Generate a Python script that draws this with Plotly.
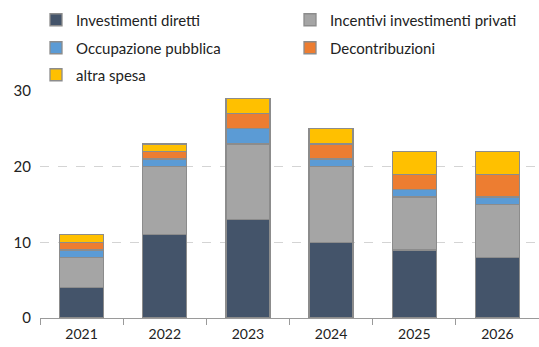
import plotly.graph_objects as go

years = ["2021", "2022", "2023", "2024", "2025", "2026"]
investimenti_diretti = [4, 11, 13, 10, 9, 8]
incentivi_privati = [4, 9, 10, 10, 7, 7]
occupazione_pubblica = [1, 1, 2, 1, 1, 1]
decontribuzioni = [1, 1, 2, 2, 2, 3]
altra_spesa = [1, 1, 2, 2, 3, 3]

# name, values, fill colour, legend id, legend anchor (px from left, px from top)
series = [
    ("Investimenti diretti", investimenti_diretti, "#44546A", "legend", (36, 20)),
    ("Incentivi investimenti privati", incentivi_privati, "#A5A5A5", "legend2", (290, 20)),
    ("Occupazione pubblica", occupazione_pubblica, "#5B9BD5", "legend3", (36, 48)),
    ("Decontribuzioni", decontribuzioni, "#ED7D31", "legend4", (290, 48)),
    ("altra spesa", altra_spesa, "#FFC000", "legend5", (36, 75)),
]

FONT = "Lato, 'Noto Sans', sans-serif"
W, H = 539, 347

fig = go.Figure()
legends = {}
for name, vals, color, leg, (lx, ly) in series:
    fig.add_trace(go.Bar(
        x=years, y=vals, name=name, legend=leg,
        marker=dict(color=color, line=dict(color="#8C8C8C", width=1.3)),
        width=0.53,
    ))
    legends[leg] = dict(
        orientation="h", xref="container", yref="container",
        x=lx / W, y=1 - ly / H, xanchor="left", yanchor="middle",
        font=dict(family=FONT, size=15, color="#222222"),
        bgcolor="rgba(0,0,0,0)", itemwidth=30,
    )

fig.update_layout(
    barmode="stack",
    width=W, height=H,
    margin=dict(l=40, r=0, t=91, b=29, autoexpand=False),
    paper_bgcolor="white", plot_bgcolor="white",
    font=dict(family=FONT, size=14, color="#222222"),
    showlegend=True,
    xaxis=dict(
        showline=True, linecolor="#9A9A9A", linewidth=1,
        ticks="outside", tickson="boundaries", ticklen=6, tickcolor="#9A9A9A",
        showgrid=False, tickfont=dict(size=14), ticklabelstandoff=3,
    ),
    yaxis=dict(
        range=[0, 30], tickvals=[0, 10, 20, 30], showline=False,
        showgrid=True, gridcolor="#D4D4D4", griddash="dash", gridwidth=1,
        zeroline=False, tickfont=dict(size=15), ticks="",
        ticklabelstandoff=8,
    ),
    **legends,
)

fig.write_html("out.html")
